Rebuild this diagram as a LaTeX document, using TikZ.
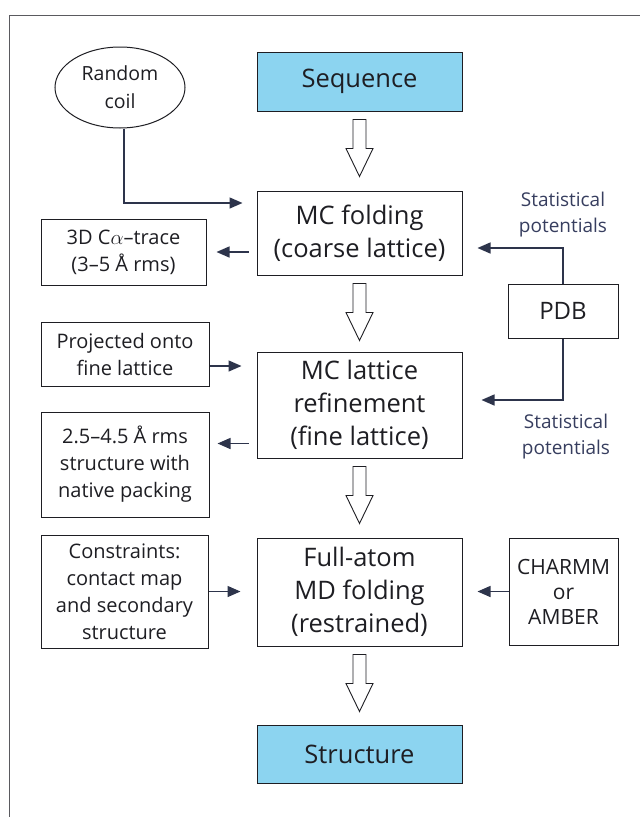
\documentclass[tikz,border=0pt]{standalone}
\usepackage{fontspec}
\setmainfont{Open Sans}
\usetikzlibrary{arrows.meta,shapes.geometric,calc}
\definecolor{seqblue}{RGB}{140,212,240}
\definecolor{ink}{RGB}{30,30,35}
\definecolor{conncol}{RGB}{45,52,75}
\definecolor{statcol}{RGB}{55,62,95}
\definecolor{framecol}{RGB}{90,90,95}
\begin{document}
\begin{tikzpicture}[x=1pt,y=-1pt,
  box/.style={draw=ink, line width=1pt, align=center, inner sep=0pt, text=ink},
  mainbox/.style={box, minimum width=205pt, font=\fontsize{25.5}{33}\selectfont},
  sidebox/.style={box, font=\fontsize{20}{27}\selectfont},
  stat/.style={align=center, text=statcol, inner sep=0pt, font=\fontsize{19}{26}\selectfont},
  conn/.style={draw=conncol, line width=1.4pt, -{Triangle[length=13pt,width=11pt]}},
  framel/.style={draw=framecol, line width=1pt},
  openarr/.pic={\draw[draw=ink, fill=white, line width=0.9pt]
     (-6.5,0) -- (-6.5,29) -- (-13.5,29) -- (0,57) -- (13.5,29) -- (6.5,29) -- (6.5,0) -- cycle;}
]
\useasboundingbox (0,0) rectangle (640,817);
\fill[white] (0,0) rectangle (640,817);
\draw[framel] (9,15) -- (640,15);
\draw[framel] (9,15) -- (9,817);

% main column
\node[mainbox, fill=seqblue, minimum height=59pt] (seq) at (359.5,81.5) {Sequence};
\node[mainbox, minimum height=84pt] (mcf) at (359.5,233) {MC folding\\(coarse lattice)};
\node[mainbox, minimum height=106pt] (mcl) at (359.5,405) {MC lattice\\refinement\\(fine lattice)};
\node[mainbox, minimum height=108pt] (fa) at (359.5,592) {Full-atom\\MD folding\\(restrained)};
\node[mainbox, fill=seqblue, minimum height=58pt] (str) at (359.5,754) {Structure};

% left column
\node[draw=ink, line width=1pt, ellipse, minimum width=130pt, minimum height=81pt, inner sep=0pt,
      align=center, text=ink, font=\fontsize{19.5}{28}\selectfont] (coil) at (120,87.5) {Random\\coil};
\node[sidebox, minimum width=165pt, minimum height=66pt] (trace) at (123.5,252) {3D C$\alpha$–trace\\(3–5 Å rms)};
\node[sidebox, minimum width=168pt, minimum height=64pt] (proj) at (125,354) {Projected onto\\fine lattice};
\node[sidebox, minimum width=168pt, minimum height=105pt] (rms) at (125,464.5) {2.5–4.5 Å rms\\structure with\\native packing};
\node[sidebox, minimum width=167pt, minimum height=113pt] (cons) at (124.5,591.5) {Constraints:\\contact map\\and secondary\\structure};

% right column
\node[box, minimum width=110pt, minimum height=54pt, font=\fontsize{24}{28}\selectfont] (pdb) at (563,311) {PDB};
\node[box, minimum width=109pt, minimum height=107pt, font=\fontsize{21}{25}\selectfont] (charmm) at (563.5,591.5) {CHARMM\\or\\AMBER};
\node[stat] (stat1) at (563,215) {Statistical\\potentials};
\node[stat] (stat2) at (566,437) {Statistical\\potentials};

% open arrows
\pic at ($(seq.south)+(0,8)$) {openarr};
\pic at ($(mcf.south)+(0,8)$) {openarr};
\pic at ($(mcl.south)+(0,8)$) {openarr};
\pic at ($(fa.south)+(0,8)$) {openarr};

% connectors
\draw[conn] ([xshift=4pt]coil.south) |- ([xshift=-14pt,yshift=30pt]mcf.west);
\draw[conn, shorten <=8pt, shorten >=10pt] (mcf.west |- trace.east) -- (trace.east);
\draw[conn] (pdb.north) |- ([xshift=15pt,yshift=-15pt]mcf.east);
\draw[conn] (pdb.south) |- ([xshift=19pt,yshift=5pt]mcl.east);
\draw[conn, transform canvas={yshift=-12pt}, shorten >=15pt] (proj.east) -- (proj.east -| mcl.west);
\draw[conn, transform canvas={yshift=21pt}, shorten <=8pt, shorten >=8pt] (mcl.west |- rms.east) -- (rms.east);
\draw[conn, shorten >=16pt] (cons.east) -- (cons.east -| fa.west);
\draw[conn, shorten >=15pt] (charmm.west) -- (charmm.west -| fa.east);
\end{tikzpicture}
\end{document}
